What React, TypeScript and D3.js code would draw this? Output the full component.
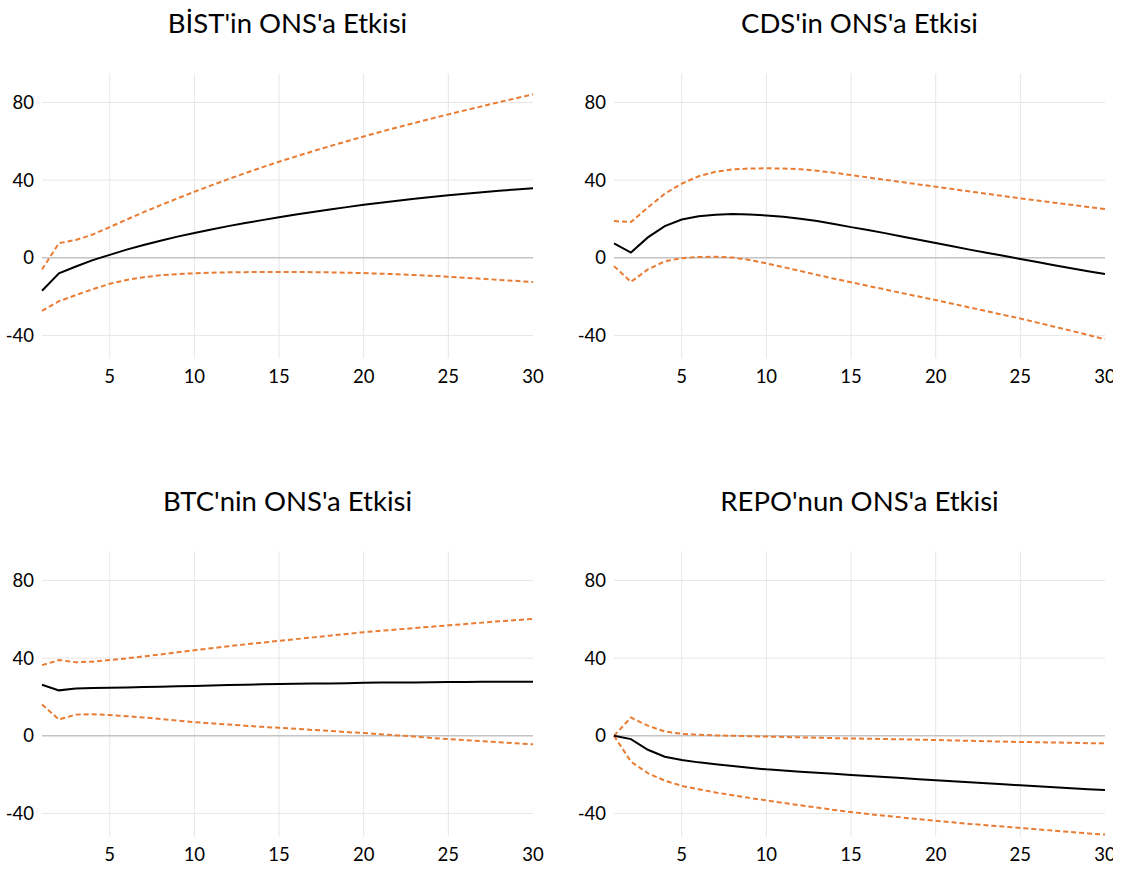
import React from "react";
import * as d3 from "d3";

const periods: number[] = Array.from({ length: 30 }, (_, i) => i + 1);
const xTicks: number[] = [5, 10, 15, 20, 25, 30];
const yTicks: number[] = [-40, 0, 40, 80];

const titles: string[] = [
  "BİST'in ONS'a Etkisi",
  "CDS'in ONS'a Etkisi",
  "BTC'nin ONS'a Etkisi",
  "REPO'nun ONS'a Etkisi",
];

const bistMean = [-17, -8, -4.5, -1.2, 1.5, 4.2, 6.6, 8.8, 10.9, 12.8, 14.6, 16.3, 17.9, 19.4, 20.9, 22.3, 23.6, 24.9, 26.1, 27.3, 28.4, 29.4, 30.4, 31.3, 32.2, 33.0, 33.8, 34.5, 35.2, 35.8];
const bistUpper = [-6, 7.5, 9.2, 12, 15.8, 19.7, 23.5, 27.1, 30.6, 34, 37.3, 40.5, 43.6, 46.6, 49.5, 52.2, 54.9, 57.5, 60, 62.5, 64.9, 67.2, 69.5, 71.7, 73.9, 76, 78.1, 80.2, 82.2, 84.2];
const bistLower = [-27.4, -22.4, -19.2, -16.2, -13.4, -11.4, -10, -9, -8.4, -8, -7.7, -7.5, -7.4, -7.3, -7.3, -7.3, -7.4, -7.5, -7.7, -7.9, -8.2, -8.5, -8.9, -9.3, -9.8, -10.3, -10.8, -11.4, -11.9, -12.5];

const cdsMean = [7.4, 2.7, 10.5, 16.3, 19.7, 21.4, 22.2, 22.5, 22.3, 21.8, 21.1, 20.1, 18.9, 17.4, 15.8, 14.3, 12.7, 11.0, 9.3, 7.6, 5.9, 4.2, 2.6, 1.0, -0.6, -2.2, -3.8, -5.4, -6.9, -8.4];
const cdsUpper = [18.9, 18.4, 25.9, 33, 38.2, 42, 44.3, 45.5, 46, 46.1, 46, 45.6, 44.8, 43.8, 42.6, 41.4, 40.2, 39, 37.8, 36.6, 35.4, 34.2, 33, 31.8, 30.6, 29.5, 28.4, 27.3, 26.2, 25.1];
const cdsLower = [-4.3, -12.4, -6, -1.8, -0.2, 0.4, 0.5, 0.1, -1.1, -2.9, -4.8, -6.8, -8.8, -10.8, -12.6, -14.5, -16.3, -18.2, -20, -21.8, -23.7, -25.6, -27.5, -29.4, -31.3, -33.4, -35.5, -37.6, -39.8, -42];

const btcMean = [26.3, 23.4, 24.4, 24.6, 24.8, 24.9, 25.1, 25.3, 25.5, 25.7, 25.9, 26.1, 26.3, 26.5, 26.7, 26.8, 26.9, 27.0, 27.1, 27.3, 27.4, 27.4, 27.5, 27.6, 27.7, 27.7, 27.8, 27.8, 27.9, 27.9];
const btcUpper = [36.4, 39, 37.9, 38.2, 39, 39.9, 40.9, 41.9, 43, 44.1, 45.1, 46.1, 47.1, 48, 48.9, 49.8, 50.7, 51.6, 52.5, 53.4, 54.1, 54.8, 55.5, 56.2, 56.9, 57.6, 58.3, 59, 59.6, 60.2];
const btcLower = [16.1, 8.4, 10.9, 11.1, 10.7, 10.1, 9.4, 8.7, 7.8, 7.0, 6.4, 5.8, 5.2, 4.6, 4.1, 3.6, 3.0, 2.5, 1.9, 1.4, 0.8, 0.2, -0.4, -1.1, -1.7, -2.2, -2.8, -3.3, -3.9, -4.4];

const repoMean = [0, -1.7, -7.2, -10.8, -12.5, -13.7, -14.7, -15.6, -16.5, -17.3, -17.9, -18.5, -19.1, -19.6, -20.2, -20.7, -21.3, -21.8, -22.4, -22.9, -23.4, -24, -24.5, -25, -25.5, -26, -26.5, -27, -27.5, -27.9];
const repoUpper = [0, 9.4, 5.2, 2.2, 1.0, 0.5, 0.2, 0, -0.2, -0.4, -0.6, -0.8, -1.0, -1.2, -1.4, -1.5, -1.7, -1.8, -2.0, -2.2, -2.4, -2.6, -2.8, -3.0, -3.2, -3.3, -3.5, -3.6, -3.8, -3.9];
const repoLower = [0, -13.3, -19.3, -23.1, -25.8, -27.6, -29.2, -30.6, -32, -33.3, -34.6, -35.8, -37, -38.2, -39.3, -40.3, -41.2, -42.1, -43, -43.8, -44.6, -45.4, -46.1, -46.8, -47.5, -48.2, -48.9, -49.6, -50.3, -50.9];

const panelSeries = [
  { mean: bistMean, upper: bistUpper, lower: bistLower },
  { mean: cdsMean, upper: cdsUpper, lower: cdsLower },
  { mean: btcMean, upper: btcUpper, lower: btcLower },
  { mean: repoMean, upper: repoUpper, lower: repoLower },
];

const FONT = "Lato, 'Open Sans', sans-serif";
const ORANGE = "#e97c33";

function Panel({ ox, oy, title, s }: { ox: number; oy: number; title: string; s: any }) {
  const x = d3.scaleLinear().domain([1, 30]).range([42, 533]);
  const y = d3.scaleLinear().domain([-52, 95]).range([358.7, 73.4]);
  const line = d3
    .line<number>()
    .x((_, i) => x(periods[i]))
    .y((d) => y(d));
  const [y0, y1] = y.range();
  return (
    <g transform={`translate(${ox},${oy})`}>
      <text x={(x(1) + x(30)) / 2} y={33} textAnchor="middle" fontFamily={FONT} fontSize={27.5} fill="#000">
        {title}
      </text>
      {xTicks.filter((t) => t < 30).map((t) => (
        <line key={"vx" + t} x1={x(t)} x2={x(t)} y1={y1} y2={y0} stroke="#e6e6e6" strokeWidth={1} />
      ))}
      {yTicks.filter((t) => t !== 0).map((t) => (
        <line key={"hy" + t} x1={x(1)} x2={x(30)} y1={y(t)} y2={y(t)} stroke="#e6e6e6" strokeWidth={1} />
      ))}
      <line x1={x(1)} x2={x(30)} y1={y(0)} y2={y(0)} stroke="#c4c4c4" strokeWidth={1.6} />
      {yTicks.map((t) => (
        <text key={"yl" + t} x={34} y={y(t)} dy="0.35em" textAnchor="end" fontFamily={FONT} fontSize={18.5} fill="#000">
          {t}
        </text>
      ))}
      {xTicks.map((t) => (
        <text key={"xl" + t} x={x(t)} y={383} textAnchor="middle" fontFamily={FONT} fontSize={18.5} fill="#000">
          {t}
        </text>
      ))}
      <path d={line(s.upper) || ""} fill="none" stroke={ORANGE} strokeWidth={2} strokeDasharray="5,3" />
      <path d={line(s.lower) || ""} fill="none" stroke={ORANGE} strokeWidth={2} strokeDasharray="5,3" />
      <path d={line(s.mean) || ""} fill="none" stroke="#000" strokeWidth={2} />
    </g>
  );
}

export default function App() {
  const offsets = [
    [0, 0],
    [572, 0],
    [0, 478],
    [572, 478],
  ];
  return (
    <svg
      width={1121}
      height={870}
      style={{ position: "absolute", left: 0, top: 0, background: "#fff" }}
    >
      <defs>
        <clipPath id="frame">
          <rect x={0} y={0} width={1113} height={870} />
        </clipPath>
      </defs>
      <rect width={1121} height={870} fill="#fff" />
      <g clipPath="url(#frame)">
        {panelSeries.map((s, i) => (
          <Panel key={i} ox={offsets[i][0]} oy={offsets[i][1]} title={titles[i]} s={s} />
        ))}
      </g>
    </svg>
  );
}
